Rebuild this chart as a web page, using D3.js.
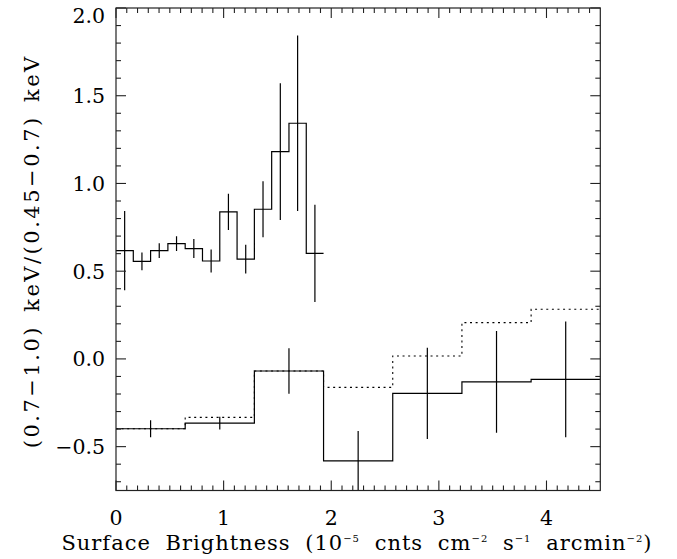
<!DOCTYPE html>
<html><head><meta charset="utf-8">
<script src="https://cdn.jsdelivr.net/npm/d3@7"></script>
<style>body{margin:0;background:#fff}svg{display:block}text{font-family:"DejaVu Serif",serif;fill:#000}</style>
</head><body><svg id="c" width="677" height="559"></svg>
<script>
// upper histogram: 12 bins of width 4.5/28
const upperValues = [0.617, 0.556, 0.617, 0.657, 0.629, 0.558, 0.838, 0.569, 0.853, 1.181, 1.343, 0.602];
const upperErrors = [0.226, 0.051, 0.042, 0.042, 0.054, 0.065, 0.103, 0.082, 0.16, 0.39, 0.50, 0.277];
// lower histograms: 7 bins of width 4.5/7
const lowerValues = [-0.398, -0.366, -0.069, -0.581, -0.196, -0.131, -0.117];
const lowerErrors = [0.048, 0.036, 0.13, 0.17, 0.26, 0.29, 0.33];
const lowerDotted = [-0.398, -0.333, -0.069, -0.162, 0.017, 0.207, 0.283];
const upperBinWidth = 4.5 / 28, lowerBinWidth = 4.5 / 7;
const xMajorTicks = [0, 1, 2, 3, 4];
const yMajorTicks = [-0.5, 0.0, 0.5, 1.0, 1.5, 2.0];
const yTickLabels = ["\u22120.5", "0.0", "0.5", "1.0", "1.5", "2.0"];

const svg = d3.select("#c");
const L = 116, R = 600.3, T = 8, B = 490.5;
const x = d3.scaleLinear().domain([0, 4.5]).range([L, R]);
const y = d3.scaleLinear().domain([-0.75, 2.0]).range([B, T]);

const defs = svg.append("defs");
defs.append("clipPath").attr("id", "clip").append("rect").attr("x", L).attr("y", T).attr("width", R - L).attr("height", B - T);

function stepPath(vals, w) {
  let p = d3.path();
  vals.forEach((v, i) => {
    const x0 = x(i * w), x1 = x((i + 1) * w);
    if (i === 0) p.moveTo(x0, y(v)); else p.lineTo(x0, y(v));
    p.lineTo(x1, y(v));
  });
  return p.toString();
}
const g = svg.append("g").attr("clip-path", "url(#clip)");
g.append("path").attr("d", stepPath(lowerDotted, lowerBinWidth)).attr("fill", "none").attr("stroke", "#000").attr("stroke-width", 1.1).attr("stroke-dasharray", "2,3.6");
g.append("path").attr("d", stepPath(upperValues, upperBinWidth)).attr("fill", "none").attr("stroke", "#000").attr("stroke-width", 1.2);
g.append("path").attr("d", stepPath(lowerValues, lowerBinWidth)).attr("fill", "none").attr("stroke", "#000").attr("stroke-width", 1.2);
function errBars(vals, errs, w) {
  g.selectAll(null).data(vals).enter().append("line")
    .attr("x1", (d, i) => x((i + 0.5) * w)).attr("x2", (d, i) => x((i + 0.5) * w))
    .attr("y1", (d, i) => y(d - errs[i])).attr("y2", (d, i) => y(d + errs[i]))
    .attr("stroke", "#000").attr("stroke-width", 1.2);
}
errBars(upperValues, upperErrors, upperBinWidth);
errBars(lowerValues, lowerErrors, lowerBinWidth);

// frame
svg.append("rect").attr("x", L).attr("y", T).attr("width", R - L).attr("height", B - T).attr("fill", "none").attr("stroke", "#222").attr("stroke-width", 1.2);

// ticks on all four sides
const xMinor = d3.range(0, 45).map(d => d / 10).filter(d => Math.abs(d - Math.round(d)) > 1e-6);
const yMinor = d3.range(-7, 21).map(d => d / 10).filter(d => Math.abs(d * 2 - Math.round(d * 2)) > 1e-6);
const ax = svg.append("g").attr("stroke", "#222").attr("stroke-width", 1.1);
function tk(x1, y1, x2, y2) { ax.append("line").attr("x1", x1).attr("y1", y1).attr("x2", x2).attr("y2", y2); }
xMajorTicks.forEach(v => { tk(x(v), B, x(v), B - 10); tk(x(v), T, x(v), T + 10); });
xMinor.forEach(v => { tk(x(v), B, x(v), B - 5); tk(x(v), T, x(v), T + 5); });
yMajorTicks.forEach(v => { tk(L, y(v), L + 10, y(v)); tk(R, y(v), R - 10, y(v)); });
yMinor.forEach(v => { tk(L, y(v), L + 5, y(v)); tk(R, y(v), R - 5, y(v)); });

// tick labels
svg.selectAll(null).data(xMajorTicks).enter().append("text")
  .attr("x", d => x(d)).attr("y", 525).attr("text-anchor", "middle").attr("font-size", 20.5).text(d => d);
svg.selectAll(null).data(yMajorTicks).enter().append("text")
  .attr("x", 105).attr("y", d => Math.max(y(d), 15.5) + 7.5).attr("text-anchor", "end").attr("font-size", 20.5).text((d, i) => yTickLabels[i]);

// x title
const xt = svg.append("text").attr("x", 357).attr("y", 549.5).attr("text-anchor", "middle").attr("font-size", 21)
  .style("letter-spacing", "1px").style("word-spacing", "7px");
xt.append("tspan").text("Surface Brightness (10");
xt.append("tspan").attr("dy", -8).attr("font-size", 10).text("\u22125");
xt.append("tspan").attr("dy", 8).text(" cnts cm");
xt.append("tspan").attr("dy", -8).attr("font-size", 10).text("\u22122");
xt.append("tspan").attr("dy", 8).text(" s");
xt.append("tspan").attr("dy", -8).attr("font-size", 10).text("\u22121");
xt.append("tspan").attr("dy", 8).text(" arcmin");
xt.append("tspan").attr("dy", -8).attr("font-size", 10).text("\u22122");
xt.append("tspan").attr("dy", 8).text(")");

// y title
svg.append("text").attr("transform", "translate(39," + ((T + B) / 2 + 2) + ") rotate(-90)")
  .attr("text-anchor", "middle").attr("font-size", 21)
  .style("letter-spacing", "2.5px").style("word-spacing", "4px")
  .text("(0.7\u22121.0) keV/(0.45\u22120.7) keV");
</script></body></html>
